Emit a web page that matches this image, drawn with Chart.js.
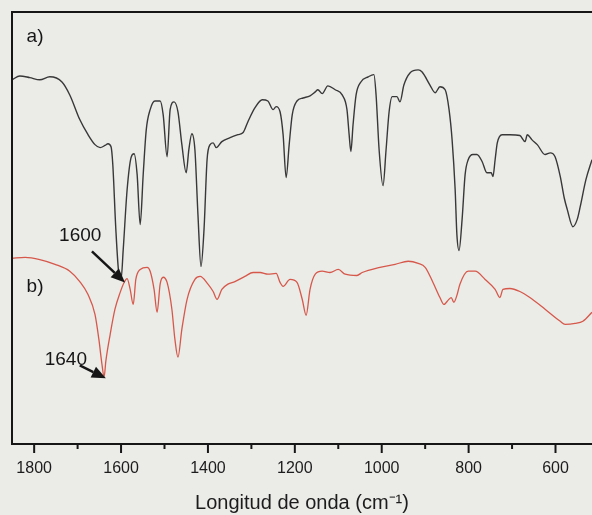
<!DOCTYPE html>
<html lang="es">
<head>
<meta charset="utf-8">
<title>Espectro IR</title>
<script src="https://cdn.jsdelivr.net/npm/chart.js"></script>
<style>
    html, body { margin: 0; padding: 0; background: #ebebe8; }
    #irChart { display: block; }
</style>
</head>
<body>
<canvas id="irChart" width="592" height="515"></canvas>
<script>
// --- 1. Data ---

// Wavenumber (cm-1) and transmittance (arb. units) for trace a)
const waveA = [
    1851, 1833, 1810, 1787, 1764, 1736, 1718, 1695, 1676, 1660, 1648, 1637, 1630, 1623,
    1619, 1612, 1605, 1600, 1595, 1586, 1577, 1570, 1563, 1556, 1549, 1542, 1533, 1522,
    1510, 1503, 1494, 1487, 1478, 1469, 1460, 1450, 1444, 1437, 1430, 1423, 1416, 1409,
    1402, 1395, 1388, 1381, 1368, 1349, 1331, 1319, 1308, 1292, 1275, 1262, 1250, 1243,
    1234, 1227, 1220, 1213, 1206, 1195, 1181, 1165, 1153, 1147, 1137, 1124, 1107, 1091,
    1080, 1075, 1071, 1066, 1059, 1048, 1031, 1018, 1013, 1006, 997, 990, 983, 976,
    965, 958, 949, 935, 916, 907, 889, 877, 866, 854, 845, 838, 831, 827,
    822, 815, 808, 801, 790, 781, 769, 758, 748, 744, 739, 734, 723, 705,
    682, 670, 665, 654, 642, 624, 612, 601, 589, 580, 573, 560, 550, 543,
    530, 516
];
const transA = [
    84.3, 85.2, 84.8, 84.3, 85.0, 83.8, 80.8, 75.1, 71.6, 69.3, 68.6, 69.1, 69.5, 68.8,
    64.7, 49.7, 39.3, 38.1, 45.0, 58.9, 66.3, 67.2, 62.4, 50.8, 62.4, 72.7, 77.4, 79.4,
    79.4, 76.2, 66.5, 77.4, 79.2, 76.9, 69.3, 62.8, 68.1, 71.8, 68.1, 53.1, 41.1, 49.7,
    65.8, 69.3, 69.7, 68.6, 70.0, 70.9, 71.6, 72.1, 74.6, 77.8, 79.7, 79.4, 77.4, 78.1,
    76.9, 71.6, 61.7, 69.3, 76.2, 79.4, 80.1, 80.6, 81.5, 82.0, 81.1, 82.9, 82.0, 80.8,
    77.4, 71.6, 67.7, 73.9, 80.8, 83.8, 85.0, 85.5, 80.8, 68.1, 59.8, 68.1, 76.9, 80.4,
    80.4, 79.2, 83.1, 85.9, 86.6, 86.1, 83.1, 81.3, 82.7, 82.0, 77.4, 70.4, 58.9, 48.5,
    44.8, 52.0, 62.4, 65.8, 67.0, 67.0, 65.4, 62.8, 62.8, 61.9, 65.8, 69.7, 71.6, 71.6,
    71.4, 70.0, 71.6, 70.4, 69.3, 67.0, 67.4, 66.5, 61.9, 57.0, 54.3, 50.3, 52.0, 55.0,
    61.2, 65.8
];

// Trace b)
const waveB = [
    1851, 1821, 1787, 1752, 1718, 1695, 1676, 1660, 1651, 1644, 1639, 1635, 1625, 1614,
    1602, 1593, 1586, 1579, 1572, 1566, 1556, 1540, 1533, 1524, 1517, 1510, 1503, 1494,
    1483, 1476, 1469, 1460, 1448, 1430, 1418, 1400, 1388, 1379, 1368, 1354, 1338, 1315,
    1296, 1280, 1262, 1243, 1234, 1227, 1211, 1195, 1183, 1174, 1165, 1153, 1137, 1119,
    1100, 1084, 1057, 1045, 1004, 969, 939, 916, 900, 882, 866, 857, 847, 840,
    834, 827, 820, 801, 785, 762, 739, 728, 721, 705, 682, 659, 624, 589,
    578, 555, 537, 516
];
const transB = [
    43.0, 43.2, 42.7, 41.6, 40.0, 37.6, 34.6, 30.0, 24.2, 18.5, 15.5, 19.2, 25.4, 31.2,
    35.1, 37.4, 38.3, 35.8, 32.3, 38.1, 40.4, 40.9, 40.0, 35.8, 30.5, 37.0, 38.6, 37.4,
    31.2, 24.2, 20.1, 26.6, 33.5, 38.1, 38.8, 37.0, 35.3, 33.5, 35.8, 37.0, 37.6, 38.8,
    39.7, 39.7, 39.3, 39.5, 37.4, 36.5, 38.1, 37.4, 33.5, 29.8, 35.8, 39.3, 40.0, 39.7,
    40.4, 39.3, 39.0, 39.7, 40.9, 41.6, 42.3, 41.8, 40.9, 37.4, 33.9, 32.3, 33.3, 33.9,
    32.8, 34.4, 37.0, 40.0, 40.0, 38.1, 35.8, 33.9, 35.8, 36.0, 35.3, 33.9, 31.2, 28.4,
    27.7, 27.9, 28.4, 30.5
];

// Axis ticks
const majorTicks = [1800, 1600, 1400, 1200, 1000, 800, 600];
const minorTicks = [1700, 1500, 1300, 1100, 900, 700];

// Labels written on the plot: [text, wavenumber, transmittance]
const panelLabels = [
    ['a)', 1798, 94.2],
    ['b)', 1798, 36.5]
];
// Peak callouts: [text, text wn, text T, arrow start wn, start T, tip wn, tip T]
const peakCallouts = [
    ['1600', 1694, 48.3, 1667, 44.6, 1591, 37.4],
    ['1640', 1727, 19.6, 1695, 18.2, 1635, 15.2]
];

// --- 2. Helpers ---

const toPoints = (xs, ys) => xs.map((x, i) => ({ x: x, y: ys[i] }));

const INK = '#161616';
const FONT = '"Liberation Sans", Arial, sans-serif';

// Frame (left and top lines), hand-made tick marks, labels and arrows
const decorPlugin = {
    id: 'decor',
    afterDraw(chart) {
        const { ctx, chartArea, scales } = chart;
        const xs = scales.x;
        const ys = scales.y;
        ctx.save();

        // frame
        ctx.strokeStyle = INK;
        ctx.lineWidth = 2;
        ctx.beginPath();
        ctx.moveTo(chartArea.left, chartArea.bottom);
        ctx.lineTo(chartArea.left, chartArea.top);
        ctx.lineTo(chartArea.right, chartArea.top);
        ctx.stroke();

        // ticks below the axis
        const drawTick = (value, len) => {
            const px = xs.getPixelForValue(value);
            ctx.beginPath();
            ctx.moveTo(px, chartArea.bottom);
            ctx.lineTo(px, chartArea.bottom + len);
            ctx.stroke();
        };
        majorTicks.forEach(v => drawTick(v, 9));
        minorTicks.forEach(v => drawTick(v, 5));

        // panel labels
        ctx.fillStyle = INK;
        ctx.font = '19px ' + FONT;
        ctx.textAlign = 'center';
        ctx.textBaseline = 'middle';
        panelLabels.forEach(([txt, wn, t]) => {
            ctx.fillText(txt, xs.getPixelForValue(wn), ys.getPixelForValue(t));
        });

        // callouts with arrows
        peakCallouts.forEach(([txt, tx, ty, ax, ay, bx, by]) => {
            ctx.fillText(txt, xs.getPixelForValue(tx), ys.getPixelForValue(ty));
            const x0 = xs.getPixelForValue(ax), y0 = ys.getPixelForValue(ay);
            const x1 = xs.getPixelForValue(bx), y1 = ys.getPixelForValue(by);
            const ang = Math.atan2(y1 - y0, x1 - x0);
            const headLen = 14, headW = 6;
            const hx = x1 - headLen * Math.cos(ang);
            const hy = y1 - headLen * Math.sin(ang);
            ctx.lineWidth = 2.5;
            ctx.beginPath();
            ctx.moveTo(x0, y0);
            ctx.lineTo(hx, hy);
            ctx.stroke();
            ctx.beginPath();
            ctx.moveTo(x1, y1);
            ctx.lineTo(hx + headW * Math.sin(ang), hy - headW * Math.cos(ang));
            ctx.lineTo(hx - headW * Math.sin(ang), hy + headW * Math.cos(ang));
            ctx.closePath();
            ctx.fill();
        });

        ctx.restore();
    }
};

// --- 3. Chart ---

const ctx = document.getElementById('irChart').getContext('2d');

new Chart(ctx, {
    type: 'line',
    data: {
        datasets: [
            {
                label: 'a)',
                data: toPoints(waveA, transA),
                borderColor: '#383838',
                borderWidth: 1.4,
                pointRadius: 0,
                cubicInterpolationMode: 'monotone'
            },
            {
                label: 'b)',
                data: toPoints(waveB, transB),
                borderColor: '#d6584a',
                borderWidth: 1.3,
                pointRadius: 0,
                cubicInterpolationMode: 'monotone'
            }
        ]
    },
    options: {
        responsive: false,
        animation: false,
        devicePixelRatio: 1,
        layout: { padding: { left: 12, top: 12, right: 0, bottom: 0 } },
        plugins: {
            legend: { display: false },
            tooltip: { enabled: false }
        },
        scales: {
            x: {
                type: 'linear',
                reverse: true,
                min: 516,
                max: 1851,
                grid: { display: false, drawTicks: false },
                border: { display: true, color: INK, width: 2 },
                afterBuildTicks: (scale) => {
                    scale.ticks = majorTicks.map(v => ({ value: v }));
                },
                afterFit: (scale) => { scale.height = 71; },
                ticks: {
                    autoSkip: false,
                    maxRotation: 0,
                    padding: 15,
                    color: '#1c1c1c',
                    font: { family: FONT, size: 16 },
                    callback: (value) => String(value)
                },
                title: {
                    display: true,
                    text: 'Longitud de onda (cm⁻¹)',
                    color: '#1c1c1c',
                    padding: { top: 0, bottom: 0 },
                    font: { family: FONT, size: 20 }
                }
            },
            y: {
                display: false,
                min: 0,
                max: 100
            }
        }
    },
    plugins: [decorPlugin]
});
</script>
</body>
</html>
